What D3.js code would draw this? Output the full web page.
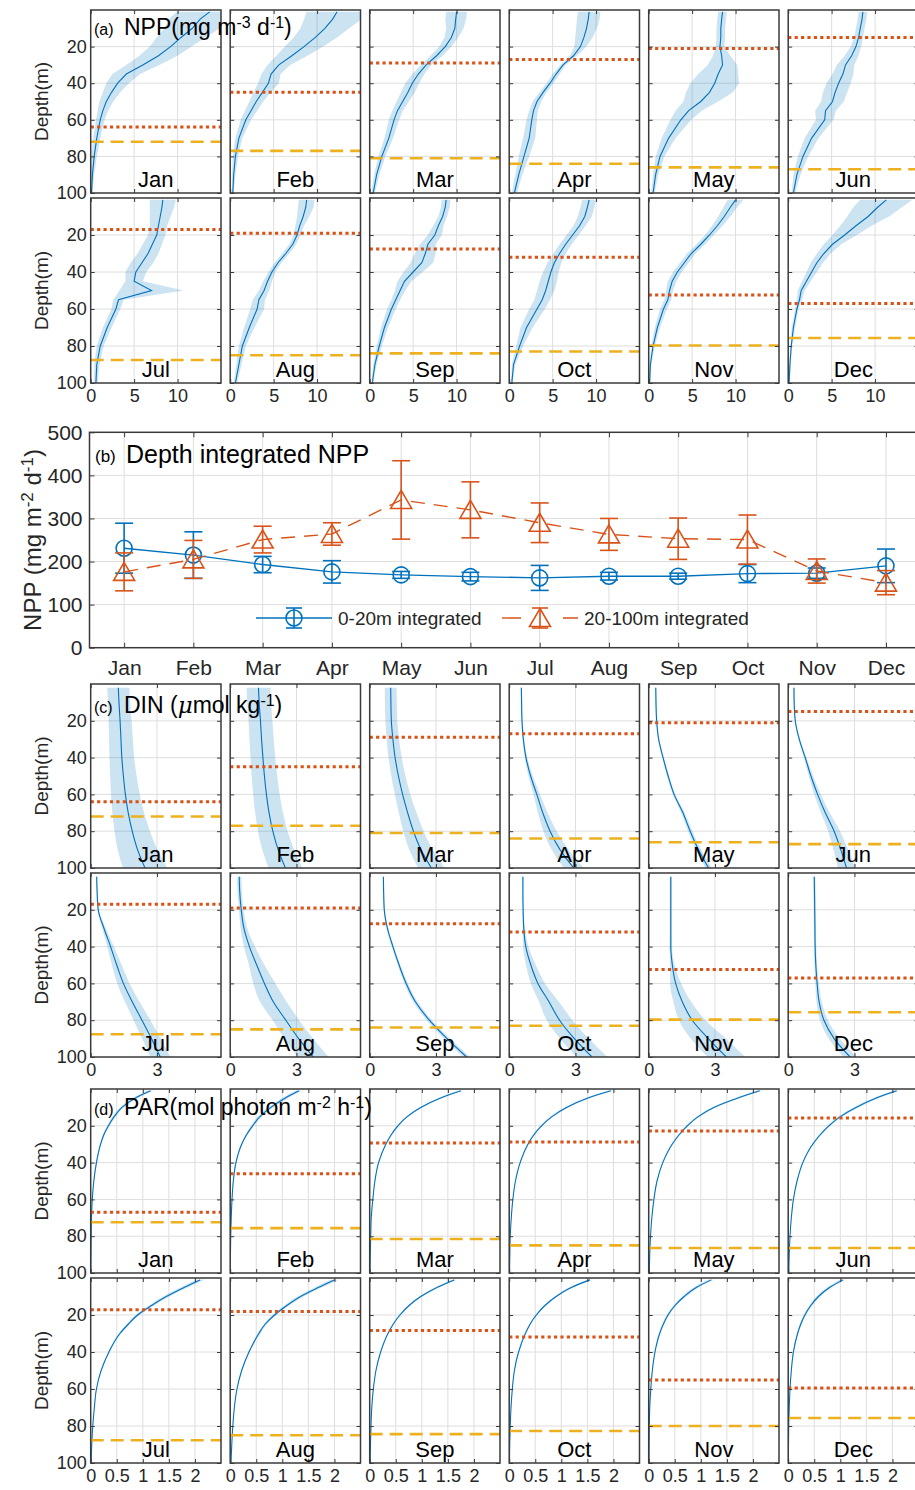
<!DOCTYPE html>
<html>
<head>
<meta charset="utf-8">
<script src="https://cdn.jsdelivr.net/npm/d3@7"></script>
<style>
  body { margin: 0; background: #fff; }
</style>
</head>
<body>
<div id="chart"></div>
<script>
// ---------------- data ----------------
const months = ['Jan', 'Feb', 'Mar', 'Apr', 'May', 'Jun', 'Jul', 'Aug', 'Sep', 'Oct', 'Nov', 'Dec'];

// mixed layer depth (dotted) and euphotic depth (dashed), m
const mldA = [64, 45, 29, 27, 21, 15, 17, 19, 27.6, 32, 52.4, 57];
const zeuA = [72, 77, 81, 84, 86, 87, 87.6, 85, 84, 83, 79.7, 75.7];
const mldD = [67, 46, 29.3, 28.8, 22.8, 15.8, 17.2, 18.1, 28.4, 31.9, 55.1, 59.5];
const zeuD = [72.4, 75.6, 81.5, 85, 86.4, 86.4, 87.7, 85, 84.4, 82.7, 80, 75.7];

// NPP profiles (mg m-3 d-1)
const nppDepth = [1, 5, 10, 15, 20, 25, 30, 35, 40, 45, 50, 55, 60, 70, 80, 90, 100];
const nppMean = [
  [13.7, 12.6, 11.7, 10.4, 9.2, 7.8, 6.0, 4.1, 3.1, 2.4, 1.8, 1.4, 1.1, 0.7, 0.4, 0.2, 0.1],
  [12.3, 11.8, 10.9, 9.8, 8.5, 7.1, 5.6, 4.7, 4.4, 3.7, 3.0, 2.4, 1.8, 1.0, 0.6, 0.4, 0.3],
  [10.0, 9.9, 9.8, 9.4, 8.7, 7.7, 6.5, 5.6, 4.9, 4.4, 3.8, 3.2, 2.8, 2.2, 1.4, 0.8, 0.4],
  [9.2, 9.1, 8.9, 8.6, 8.2, 7.4, 6.2, 5.4, 4.7, 3.9, 3.2, 2.8, 2.6, 2.3, 1.7, 1.1, 0.6],
  [8.5, 8.4, 8.3, 8.3, 8.2, 8.4, 8.5, 8.0, 7.6, 7.0, 6.0, 4.6, 3.7, 2.3, 1.3, 0.8, 0.5],
  [8.6, 8.5, 8.3, 8.1, 7.8, 7.3, 6.6, 6.3, 5.8, 5.4, 5.1, 4.3, 4.2, 2.7, 1.7, 1.0, 0.6],
  [8.3, 8.2, 8.0, 7.8, 7.6, 7.1, 6.6, 5.9, 5.2, 5.0, 7.0, 3.2, 2.9, 1.9, 1.1, 0.7, 0.6],
  [8.8, 8.7, 8.4, 8.0, 7.7, 7.2, 6.4, 5.5, 4.8, 4.3, 3.9, 3.3, 3.1, 2.2, 1.4, 1.0, 0.6],
  [8.8, 8.7, 8.4, 7.9, 7.5, 6.7, 6.4, 6.0, 5.0, 4.0, 3.5, 3.0, 2.5, 1.7, 1.1, 0.6, 0.3],
  [9.2, 9.0, 8.7, 8.1, 7.3, 6.5, 5.8, 5.2, 4.8, 4.5, 4.2, 3.8, 3.2, 2.0, 1.2, 0.5, 0.3],
  [10.0, 9.4, 8.7, 7.9, 7.0, 6.0, 4.9, 4.1, 3.3, 2.7, 2.4, 2.2, 1.7, 1.0, 0.5, 0.2, 0.1],
  [11.3, 10.3, 9.2, 7.8, 6.5, 5.1, 4.1, 3.3, 2.7, 2.1, 1.5, 1.3, 1.0, 0.6, 0.35, 0.2, 0.1]
];
const nppSd = [
  [3.8, 3.6, 3.2, 2.8, 2.4, 2.2, 1.9, 1.6, 1.3, 1.0, 0.8, 0.6, 0.5, 0.4, 0.3, 0.2, 0.1],
  [3.5, 3.3, 2.8, 2.5, 2.2, 1.8, 1.3, 1.1, 1.2, 1.0, 0.8, 0.7, 0.6, 0.4, 0.3, 0.2, 0.1],
  [1.2, 1.2, 1.0, 0.8, 0.7, 0.7, 0.6, 0.7, 0.8, 0.8, 0.7, 0.6, 0.6, 0.5, 0.4, 0.3, 0.2],
  [1.3, 1.3, 1.2, 1.0, 0.7, 0.4, 0.3, 0.4, 0.4, 0.4, 0.5, 0.5, 0.6, 0.7, 0.6, 0.4, 0.3],
  [0.5, 0.5, 0.5, 0.5, 0.5, 1.0, 1.7, 2.3, 2.8, 2.7, 2.0, 1.5, 1.2, 0.8, 0.5, 0.3, 0.2],
  [0.5, 0.5, 0.5, 0.5, 0.6, 0.8, 1.0, 1.2, 1.4, 1.4, 1.3, 1.2, 1.0, 0.8, 0.6, 0.4, 0.2],
  [1.5, 1.4, 1.2, 1.0, 1.0, 1.1, 1.2, 1.3, 1.2, 1.0, 3.7, 0.6, 0.5, 0.5, 0.4, 0.3, 0.2],
  [0.9, 0.9, 0.7, 0.5, 0.4, 0.4, 0.4, 0.4, 0.4, 0.5, 0.6, 0.7, 0.8, 0.6, 0.4, 0.3, 0.2],
  [0.5, 0.5, 0.5, 0.6, 0.8, 0.9, 1.2, 1.3, 1.1, 0.8, 0.6, 0.5, 0.5, 0.4, 0.3, 0.2, 0.1],
  [0.8, 0.8, 0.8, 0.7, 0.7, 0.7, 0.7, 0.8, 0.9, 1.0, 1.0, 0.9, 0.9, 0.7, 0.4, 0.2, 0.1],
  [0.9, 0.8, 0.7, 0.6, 0.5, 0.5, 0.5, 0.5, 0.5, 0.5, 0.4, 0.4, 0.4, 0.3, 0.2, 0.1, 0.1],
  [3.0, 2.8, 2.4, 1.8, 1.4, 1.0, 0.8, 0.7, 0.6, 0.5, 0.4, 0.3, 0.2, 0.2, 0.1, 0.1, 0.1]
];

// DIN profiles (umol kg-1)
const dinDepth = [2, 10, 20, 30, 40, 50, 60, 70, 80, 90, 100];
const dinMean = [
  [1.25, 1.28, 1.33, 1.37, 1.41, 1.48, 1.57, 1.70, 1.88, 2.12, 2.46],
  [1.28, 1.31, 1.37, 1.42, 1.48, 1.55, 1.64, 1.76, 1.93, 2.17, 2.50],
  [0.95, 0.96, 0.98, 1.05, 1.15, 1.30, 1.49, 1.72, 1.98, 2.32, 2.79],
  [0.55, 0.56, 0.58, 0.64, 0.76, 0.97, 1.25, 1.52, 1.85, 2.30, 2.92],
  [0.32, 0.33, 0.36, 0.45, 0.65, 0.88, 1.15, 1.55, 1.88, 2.25, 2.71],
  [0.26, 0.27, 0.32, 0.50, 0.77, 1.03, 1.33, 1.68, 2.08, 2.38, 2.64],
  [0.27, 0.29, 0.34, 0.60, 0.90, 1.18, 1.48, 1.88, 2.32, 2.75, 3.15],
  [0.41, 0.43, 0.50, 0.62, 0.87, 1.20, 1.55, 1.95, 2.52, 3.10, 3.76],
  [0.62, 0.63, 0.66, 0.80, 1.05, 1.33, 1.65, 2.07, 2.70, 3.50, 4.39],
  [0.62, 0.62, 0.63, 0.66, 0.75, 0.98, 1.30, 1.80, 2.28, 2.95, 3.75],
  [1.00, 1.00, 1.00, 1.00, 1.00, 1.07, 1.22, 1.52, 1.97, 2.70, 3.52],
  [1.18, 1.19, 1.20, 1.21, 1.22, 1.25, 1.31, 1.40, 1.62, 2.08, 2.80]
];
const dinSd = [
  [0.50, 0.50, 0.52, 0.54, 0.56, 0.60, 0.65, 0.72, 0.80, 0.90, 1.00],
  [0.54, 0.54, 0.54, 0.55, 0.56, 0.58, 0.60, 0.63, 0.67, 0.72, 0.76],
  [0.27, 0.27, 0.27, 0.28, 0.30, 0.32, 0.35, 0.40, 0.46, 0.53, 0.60],
  [0.03, 0.03, 0.03, 0.04, 0.06, 0.10, 0.15, 0.22, 0.30, 0.38, 0.45],
  [0.03, 0.03, 0.03, 0.03, 0.04, 0.05, 0.06, 0.08, 0.10, 0.12, 0.14],
  [0.03, 0.03, 0.03, 0.04, 0.06, 0.10, 0.15, 0.20, 0.27, 0.33, 0.40],
  [0.03, 0.03, 0.04, 0.08, 0.15, 0.22, 0.28, 0.33, 0.38, 0.42, 0.45],
  [0.10, 0.10, 0.10, 0.15, 0.25, 0.35, 0.50, 0.60, 0.60, 0.65, 0.70],
  [0.03, 0.03, 0.03, 0.04, 0.05, 0.06, 0.08, 0.10, 0.12, 0.14, 0.15],
  [0.03, 0.03, 0.03, 0.05, 0.12, 0.22, 0.32, 0.45, 0.58, 0.65, 0.70],
  [0.05, 0.05, 0.05, 0.05, 0.06, 0.10, 0.25, 0.40, 0.60, 0.80, 0.85],
  [0.05, 0.05, 0.05, 0.05, 0.05, 0.06, 0.08, 0.12, 0.18, 0.25, 0.30]
];

// PAR profiles (mol photon m-2 h-1)
const parDepth = [1, 5, 10, 15, 20, 25, 30, 40, 50, 60, 70, 80, 90, 100];
const parMean = [
  [1.15, 0.85, 0.60, 0.45, 0.34, 0.25, 0.19, 0.11, 0.06, 0.03, 0.015, 0.008, 0.004, 0.002],
  [1.32, 1.05, 0.78, 0.57, 0.43, 0.31, 0.22, 0.11, 0.06, 0.035, 0.02, 0.01, 0.005, 0.002],
  [1.75, 1.35, 0.98, 0.72, 0.54, 0.41, 0.31, 0.17, 0.10, 0.06, 0.03, 0.02, 0.01, 0.005],
  [1.95, 1.50, 1.10, 0.82, 0.62, 0.47, 0.36, 0.21, 0.12, 0.07, 0.04, 0.02, 0.012, 0.006],
  [2.13, 1.70, 1.25, 0.95, 0.74, 0.58, 0.45, 0.27, 0.16, 0.10, 0.06, 0.035, 0.02, 0.012],
  [2.08, 1.68, 1.30, 1.00, 0.78, 0.61, 0.47, 0.28, 0.17, 0.10, 0.06, 0.035, 0.02, 0.012],
  [2.10, 1.80, 1.45, 1.16, 0.90, 0.72, 0.56, 0.35, 0.20, 0.11, 0.07, 0.04, 0.02, 0.01],
  [2.00, 1.70, 1.35, 1.08, 0.85, 0.67, 0.55, 0.36, 0.22, 0.13, 0.08, 0.05, 0.03, 0.015],
  [1.62, 1.30, 0.98, 0.75, 0.58, 0.45, 0.35, 0.21, 0.12, 0.07, 0.04, 0.025, 0.015, 0.008],
  [1.55, 1.20, 0.90, 0.68, 0.52, 0.40, 0.31, 0.18, 0.10, 0.06, 0.035, 0.02, 0.01, 0.006],
  [1.20, 0.92, 0.68, 0.50, 0.37, 0.28, 0.21, 0.12, 0.07, 0.04, 0.02, 0.012, 0.007, 0.004],
  [1.05, 0.80, 0.58, 0.43, 0.32, 0.24, 0.18, 0.10, 0.06, 0.035, 0.02, 0.01, 0.006, 0.003]
];
const parSd = [
  [0.06, 0.05, 0.04, 0.03, 0.025, 0.02, 0.015, 0.01, 0.006, 0.004, 0.002, 0.001, 0.001, 0.001],
  [0.07, 0.06, 0.05, 0.04, 0.03, 0.02, 0.015, 0.01, 0.006, 0.004, 0.002, 0.001, 0.001, 0.001],
  [0.05, 0.04, 0.03, 0.025, 0.02, 0.015, 0.01, 0.008, 0.005, 0.003, 0.002, 0.001, 0.001, 0.001],
  [0.06, 0.05, 0.04, 0.03, 0.025, 0.02, 0.015, 0.01, 0.006, 0.004, 0.002, 0.001, 0.001, 0.001],
  [0.06, 0.05, 0.04, 0.03, 0.025, 0.02, 0.015, 0.01, 0.006, 0.004, 0.002, 0.001, 0.001, 0.001],
  [0.07, 0.06, 0.05, 0.04, 0.03, 0.025, 0.02, 0.012, 0.007, 0.004, 0.002, 0.001, 0.001, 0.001],
  [0.08, 0.07, 0.06, 0.05, 0.04, 0.03, 0.025, 0.015, 0.008, 0.005, 0.003, 0.002, 0.001, 0.001],
  [0.08, 0.07, 0.06, 0.05, 0.04, 0.03, 0.025, 0.015, 0.008, 0.005, 0.003, 0.002, 0.001, 0.001],
  [0.05, 0.04, 0.03, 0.025, 0.02, 0.015, 0.01, 0.008, 0.005, 0.003, 0.002, 0.001, 0.001, 0.001],
  [0.05, 0.04, 0.03, 0.025, 0.02, 0.015, 0.01, 0.008, 0.005, 0.003, 0.002, 0.001, 0.001, 0.001],
  [0.06, 0.05, 0.04, 0.03, 0.025, 0.02, 0.015, 0.01, 0.006, 0.004, 0.002, 0.001, 0.001, 0.001],
  [0.06, 0.05, 0.04, 0.03, 0.025, 0.02, 0.015, 0.01, 0.006, 0.004, 0.002, 0.001, 0.001, 0.001]
];

// depth integrated NPP (mg m-2 d-1)
const npp020 = [231, 215, 193, 176, 169, 165, 162, 166, 166, 172, 173, 190];
const npp020Err = [58, 54, 19, 26, 8, 10, 29, 9, 7, 21, 12, 39];
const npp20100 = [176, 205, 251, 264, 343, 320, 290, 263, 253, 251, 178, 151];
const npp20100Err = [44, 44, 31, 26, 91, 65, 46, 37, 48, 57, 28, 28];

const depthTicks = [20, 40, 60, 80, 100];
const nppTicks = [0, 5, 10];
const dinTicks = [0, 3];
const parTicks = [0, 0.5, 1, 1.5, 2];
const bTicks = [0, 100, 200, 300, 400, 500];

// ---------------- layout / style ----------------
const W = 915, H = 1490;
const blue = '#0072BD', orange = '#D95319', yellow = '#EDB120';
const gridColor = '#dedede', axisColor = '#3a3a3a', textColor = '#262626';
const font = '"Liberation Sans", Arial, Helvetica, sans-serif';

let colX = [90.7, 230.2, 369.7, 509.2, 648.7, 788.2];
let boxW = 130.3;

let svg = d3.select('#chart').append('svg')
  .attr('width', W).attr('height', H)
  .style('font-family', font);

svg.append('rect').attr('width', W).attr('height', H).attr('fill', '#fff');
let defs = svg.append('defs');

//style an axis group made with d3.axisX
let styleAxis = (sel, size) => {
  sel.select('.domain').remove();
  sel.selectAll('.tick line').attr('stroke', axisColor).attr('stroke-width', 1);
  sel.selectAll('.tick text').attr('fill', textColor).style('font-size', size + 'px').style('font-family', font);
};

//one small depth profile box
let drawProfile = (cfg, m, left, top, bottom, showX, showY) => {
  let x = d3.scaleLinear().domain(cfg.xDomain).range([left, left + boxW]);
  let y = d3.scaleLinear().domain([0, 100]).range([top, bottom]);
  let g = svg.append('g');

  let clipId = 'clip-' + cfg.key + '-' + m;
  defs.append('clipPath').attr('id', clipId).append('rect')
    .attr('x', left).attr('y', top).attr('width', boxW).attr('height', bottom - top);

  // grid
  g.selectAll('.gx').data(cfg.xTicks.filter(t => t > cfg.xDomain[0])).enter().append('line')
    .attr('x1', d => x(d)).attr('x2', d => x(d))
    .attr('y1', top).attr('y2', bottom)
    .attr('stroke', gridColor).attr('stroke-width', 1);
  g.selectAll('.gy').data(depthTicks.filter(t => t < 100)).enter().append('line')
    .attr('x1', left).attr('x2', left + boxW)
    .attr('y1', d => y(d)).attr('y2', d => y(d))
    .attr('stroke', gridColor).attr('stroke-width', 1);

  let rows = cfg.depth.map((d, i) => ({ depth: d, mean: cfg.mean[m][i], sd: cfg.sd[m][i] }));
  let inner = g.append('g').attr('clip-path', `url(#${clipId})`);

  inner.append('path').datum(rows)
    .attr('d', d3.area()
      .y(d => y(d.depth))
      .x0(d => x(d.mean - d.sd))
      .x1(d => x(d.mean + d.sd))
      .curve(cfg.curve))
    .attr('fill', blue).attr('fill-opacity', 0.2).attr('stroke', 'none');

  inner.append('path').datum(rows)
    .attr('d', d3.line()
      .y(d => y(d.depth))
      .x(d => x(d.mean))
      .curve(cfg.curve))
    .attr('fill', 'none').attr('stroke', blue).attr('stroke-width', 1.1);

  // mixed layer depth / euphotic depth
  inner.append('line')
    .attr('x1', left).attr('x2', left + boxW)
    .attr('y1', y(cfg.mld[m])).attr('y2', y(cfg.mld[m]))
    .attr('stroke', orange).attr('stroke-width', 3).attr('stroke-dasharray', '3.2,3.2');
  inner.append('line')
    .attr('x1', left).attr('x2', left + boxW)
    .attr('y1', y(cfg.zeu[m])).attr('y2', y(cfg.zeu[m]))
    .attr('stroke', yellow).attr('stroke-width', 2.6).attr('stroke-dasharray', '13,7');

  // inward ticks on all four sides
  g.append('g').attr('transform', `translate(${left},0)`)
    .call(d3.axisLeft(y).tickValues(depthTicks).tickSize(-4).tickPadding(4)
      .tickFormat(showY ? d3.format('d') : ''))
    .call(s => styleAxis(s, 18));
  g.append('g').attr('transform', `translate(${left + boxW},0)`)
    .call(d3.axisRight(y).tickValues(depthTicks).tickSize(-4).tickFormat(''))
    .call(s => styleAxis(s, 18));
  g.append('g').attr('transform', `translate(0,${bottom})`)
    .call(d3.axisBottom(x).tickValues(cfg.xTicks).tickSize(-4).tickPadding(6)
      .tickFormat(showX ? (d => d) : ''))
    .call(s => styleAxis(s, 18));
  g.append('g').attr('transform', `translate(0,${top})`)
    .call(d3.axisTop(x).tickValues(cfg.xTicks).tickSize(-4).tickFormat(''))
    .call(s => styleAxis(s, 18));

  g.append('rect')
    .attr('x', left).attr('y', top).attr('width', boxW).attr('height', bottom - top)
    .attr('fill', 'none').attr('stroke', axisColor).attr('stroke-width', 1.5);

  g.append('text')
    .attr('x', left + boxW / 2).attr('y', bottom - 6)
    .attr('text-anchor', 'middle')
    .style('font-size', '22px').attr('fill', '#000')
    .text(months[m]);
};

let drawBlock = (cfg, rows) => {
  rows.forEach((r, ri) => {
    for (let c = 0; c < 6; c++) {
      let m = ri * 6 + c;
      drawProfile(cfg, m, colX[c], r[0], r[1], ri === 1, c === 0);
    }
    svg.append('text')
      .attr('transform', `translate(48,${(r[0] + r[1]) / 2}) rotate(-90)`)
      .attr('text-anchor', 'middle')
      .style('font-size', '19px').attr('fill', textColor)
      .text('Depth(m)');
  });
};

//panel title with superscripts
let panelTitle = (x, y, tag, parts) => {
  svg.append('text').attr('x', x).attr('y', y)
    .style('font-size', '16px').attr('fill', '#000').text(tag);
  let t = svg.append('text').attr('x', x + 30).attr('y', y)
    .style('font-size', '23px').attr('fill', '#000');
  parts.forEach(p => {
    let s = t.append('tspan').text(p.t);
    if (p.sup) s.attr('baseline-shift', '45%').style('font-size', '16px');
    if (p.it) s.style('font-style', 'italic').style('font-family', '"DejaVu Serif", serif');
  });
};

// ---------------- (a) NPP ----------------
drawBlock({
  key: 'npp', xDomain: [0, 15], xTicks: nppTicks, depth: nppDepth,
  mean: nppMean, sd: nppSd, mld: mldA, zeu: zeuA, curve: d3.curveLinear
}, [[10, 193], [198, 383]]);
panelTitle(94, 35, '(a)', [
  { t: 'NPP(mg m' }, { t: '-3', sup: true }, { t: ' d' }, { t: '-1', sup: true }, { t: ')' }
]);

// ---------------- (c) DIN ----------------
drawBlock({
  key: 'din', xDomain: [0, 5.9], xTicks: dinTicks, depth: dinDepth,
  mean: dinMean, sd: dinSd, mld: mldA, zeu: zeuA, curve: d3.curveMonotoneY
}, [[684, 868], [873, 1057]]);
panelTitle(94, 713, '(c)', [
  { t: 'DIN (' }, { t: 'μ', it: true }, { t: 'mol kg' }, { t: '-1', sup: true }, { t: ')' }
]);

// ---------------- (d) PAR ----------------
drawBlock({
  key: 'par', xDomain: [0, 2.5], xTicks: parTicks, depth: parDepth,
  mean: parMean, sd: parSd, mld: mldD, zeu: zeuD, curve: d3.curveMonotoneY
}, [[1089, 1273], [1278, 1463]]);
panelTitle(94, 1115, '(d)', [
  { t: 'PAR(mol photon m' }, { t: '-2', sup: true }, { t: ' h' }, { t: '-1', sup: true }, { t: ')' }
]);

// ---------------- (b) depth integrated NPP ----------------
let bLeft = 89.5, bRight = 920.6, bTop = 432.3, bBottom = 647.7;
let bx = d3.scaleLinear().domain([0.5, 12.5]).range([bLeft, bRight]);
let by = d3.scaleLinear().domain([0, 500]).range([bBottom, bTop]);
let monthIdx = months.map((d, i) => i + 1);
let gb = svg.append('g');

gb.selectAll('.gx').data(monthIdx).enter().append('line')
  .attr('x1', d => bx(d)).attr('x2', d => bx(d)).attr('y1', bTop).attr('y2', bBottom)
  .attr('stroke', gridColor);
gb.selectAll('.gy').data(bTicks.slice(1, 5)).enter().append('line')
  .attr('x1', bLeft).attr('x2', bRight).attr('y1', d => by(d)).attr('y2', d => by(d))
  .attr('stroke', gridColor);

gb.append('g').attr('transform', `translate(${bLeft},0)`)
  .call(d3.axisLeft(by).tickValues(bTicks).tickSize(-5).tickPadding(7))
  .call(s => styleAxis(s, 21));
gb.append('g').attr('transform', `translate(${bRight},0)`)
  .call(d3.axisRight(by).tickValues(bTicks).tickSize(-5).tickFormat(''))
  .call(s => styleAxis(s, 21));
gb.append('g').attr('transform', `translate(0,${bBottom})`)
  .call(d3.axisBottom(bx).tickValues(monthIdx).tickSize(-5).tickPadding(12)
    .tickFormat(d => months[d - 1]))
  .call(s => styleAxis(s, 21));
gb.append('g').attr('transform', `translate(0,${bTop})`)
  .call(d3.axisTop(bx).tickValues(monthIdx).tickSize(-5).tickFormat(''))
  .call(s => styleAxis(s, 21));
gb.append('rect')
  .attr('x', bLeft).attr('y', bTop).attr('width', bRight - bLeft).attr('height', bBottom - bTop)
  .attr('fill', 'none').attr('stroke', axisColor).attr('stroke-width', 1.5);

let triPath = 'M0,-9.5L10.5,8.5L-10.5,8.5Z';

let drawSeries = (vals, errs, color, dash, marker) => {
  let pts = vals.map((v, i) => ({ m: i + 1, v: v, e: errs[i] }));
  gb.append('path').datum(pts)
    .attr('d', d3.line().x(d => bx(d.m)).y(d => by(d.v)))
    .attr('fill', 'none').attr('stroke', color).attr('stroke-width', 1.4)
    .attr('stroke-dasharray', dash);
  let eg = gb.append('g').attr('stroke', color).attr('stroke-width', 1.6).attr('fill', 'none');
  pts.forEach(d => {
    let cx = bx(d.m);
    eg.append('line').attr('x1', cx).attr('x2', cx).attr('y1', by(d.v - d.e)).attr('y2', by(d.v + d.e));
    eg.append('line').attr('x1', cx - 9).attr('x2', cx + 9).attr('y1', by(d.v - d.e)).attr('y2', by(d.v - d.e));
    eg.append('line').attr('x1', cx - 9).attr('x2', cx + 9).attr('y1', by(d.v + d.e)).attr('y2', by(d.v + d.e));
    if (marker === 'circle') {
      eg.append('circle').attr('cx', cx).attr('cy', by(d.v)).attr('r', 8);
    } else {
      eg.append('path').attr('transform', `translate(${cx},${by(d.v)})`).attr('d', triPath);
    }
  });
};

drawSeries(npp020, npp020Err, blue, null, 'circle');
drawSeries(npp20100, npp20100Err, orange, '14,9', 'triangle');

// legend
let lg = gb.append('g');
let legendItem = (x0, color, dash, marker, label) => {
  let yL = 618;
  lg.append('line').attr('x1', x0).attr('x2', x0 + 76).attr('y1', yL).attr('y2', yL)
    .attr('stroke', color).attr('stroke-width', 1.4).attr('stroke-dasharray', dash);
  let cx = x0 + 38;
  let eg = lg.append('g').attr('stroke', color).attr('stroke-width', 1.6).attr('fill', 'none');
  eg.append('line').attr('x1', cx).attr('x2', cx).attr('y1', yL - 10).attr('y2', yL + 10);
  eg.append('line').attr('x1', cx - 8).attr('x2', cx + 8).attr('y1', yL - 10).attr('y2', yL - 10);
  eg.append('line').attr('x1', cx - 8).attr('x2', cx + 8).attr('y1', yL + 10).attr('y2', yL + 10);
  if (marker === 'circle') eg.append('circle').attr('cx', cx).attr('cy', yL).attr('r', 8);
  else eg.append('path').attr('transform', `translate(${cx},${yL})`).attr('d', triPath);
  lg.append('text').attr('x', x0 + 82).attr('y', yL + 7)
    .style('font-size', '19px').attr('fill', textColor).text(label);
};
legendItem(256, blue, null, 'circle', '0-20m integrated');
legendItem(502, orange, '19,42', 'triangle', '20-100m integrated');

// title and y label for (b)
svg.append('text').attr('x', 95).attr('y', 462)
  .style('font-size', '17px').attr('fill', '#000').text('(b)');
svg.append('text').attr('x', 126).attr('y', 463)
  .style('font-size', '25px').attr('fill', '#000').text('Depth integrated NPP');

let yl = svg.append('text')
  .attr('transform', `translate(41,${(bTop + bBottom) / 2}) rotate(-90)`)
  .attr('text-anchor', 'middle')
  .style('font-size', '24px').attr('fill', textColor);
yl.append('tspan').text('NPP (mg m');
yl.append('tspan').text('-2').attr('baseline-shift', '45%').style('font-size', '17px');
yl.append('tspan').text(' d');
yl.append('tspan').text('-1').attr('baseline-shift', '45%').style('font-size', '17px');
yl.append('tspan').text(')');
</script>
</body>
</html>
